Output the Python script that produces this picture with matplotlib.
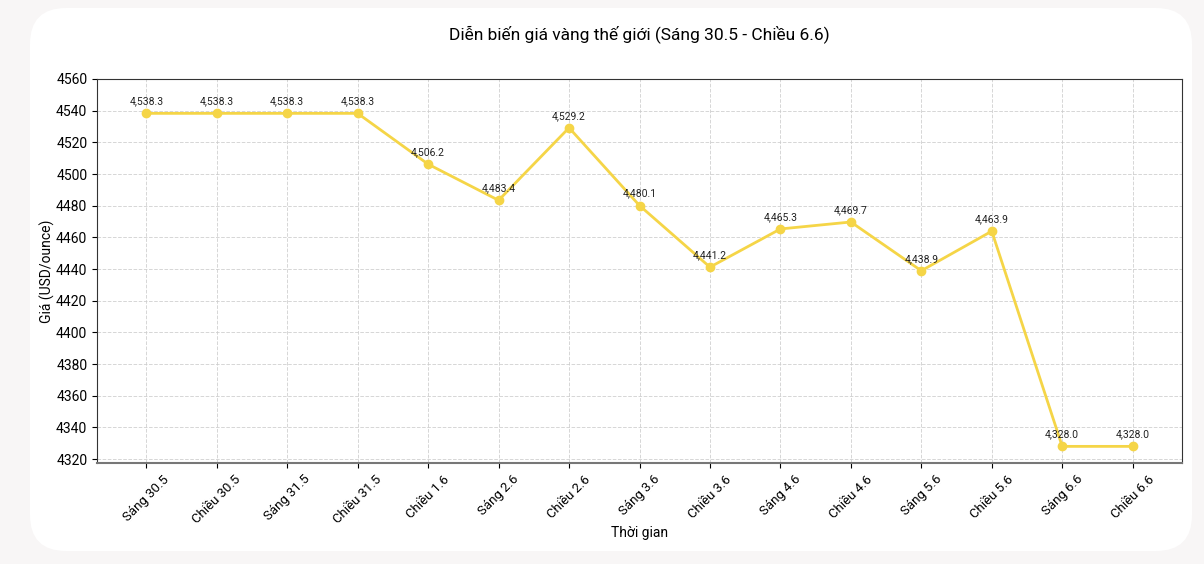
import matplotlib.pyplot as plt
from matplotlib.patches import FancyBboxPatch

plt.rcParams['font.family'] = ['Roboto', 'DejaVu Sans']

# dữ liệu giá vàng
thoi_gian = ['Sáng 30.5', 'Chiều 30.5', 'Sáng 31.5', 'Chiều 31.5', 'Chiều 1.6',
             'Sáng 2.6', 'Chiều 2.6', 'Sáng 3.6', 'Chiều 3.6', 'Sáng 4.6',
             'Chiều 4.6', 'Sáng 5.6', 'Chiều 5.6', 'Sáng 6.6', 'Chiều 6.6']
gia = [4538.3, 4538.3, 4538.3, 4538.3, 4506.2,
       4483.4, 4529.2, 4480.1, 4441.2, 4465.3,
       4469.7, 4438.9, 4463.9, 4328.0, 4328.0]

fig = plt.figure(figsize=(12.04, 5.64), dpi=100)
fig.patch.set_facecolor('#f8f6f6')

# thẻ trắng bo góc
card = FancyBboxPatch((30 / 1204, 13 / 564), 1162 / 1204, 543 / 564,
                      boxstyle="round,pad=0,rounding_size=0.03",
                      transform=fig.transFigure, facecolor='white',
                      edgecolor='none', zorder=-5, mutation_aspect=1204 / 564)
fig.patches.append(card)

ax = fig.add_axes([97 / 1204, 1 - 463 / 564, 1085 / 1204, 384 / 564])
ax.set_facecolor('white')

x = list(range(len(thoi_gian)))
ax.plot(x, gia, color='#f5d547', linewidth=2, marker='o', markersize=6, zorder=3)

for i in range(len(x)):
    ax.annotate(f"{gia[i]:,.1f}", (x[i], gia[i]), xytext=(0, 5),
                textcoords='offset points', ha='center', va='bottom',
                fontsize=7.5, color='#222222')

ax.set_xticks(x)
ax.set_xticklabels(thoi_gian, rotation=45, ha='center', fontsize=9.5)
ax.set_xlim(-0.7, 14.7)
ax.set_ylim(4317.5, 4560)
ax.set_yticks(range(4320, 4561, 20))
ax.tick_params(axis='y', labelsize=10)
ax.grid(True, linestyle='--', color='#cccccc', linewidth=0.7, alpha=0.8)
ax.set_axisbelow(True)

for s in ax.spines.values():
    s.set_color('#333333')
ax.spines['bottom'].set_color('#777777')
ax.spines['bottom'].set_linewidth(1.5)

ax.set_xlabel('Thời gian', fontsize=10, labelpad=0)
ax.set_ylabel('Giá (USD/ounce)', fontsize=10, labelpad=1)
ax.set_title('Diễn biến giá vàng thế giới (Sáng 30.5 - Chiều 6.6)', fontsize=12.5, pad=29)

fig.savefig('out.png', dpi=100, facecolor=fig.get_facecolor())
